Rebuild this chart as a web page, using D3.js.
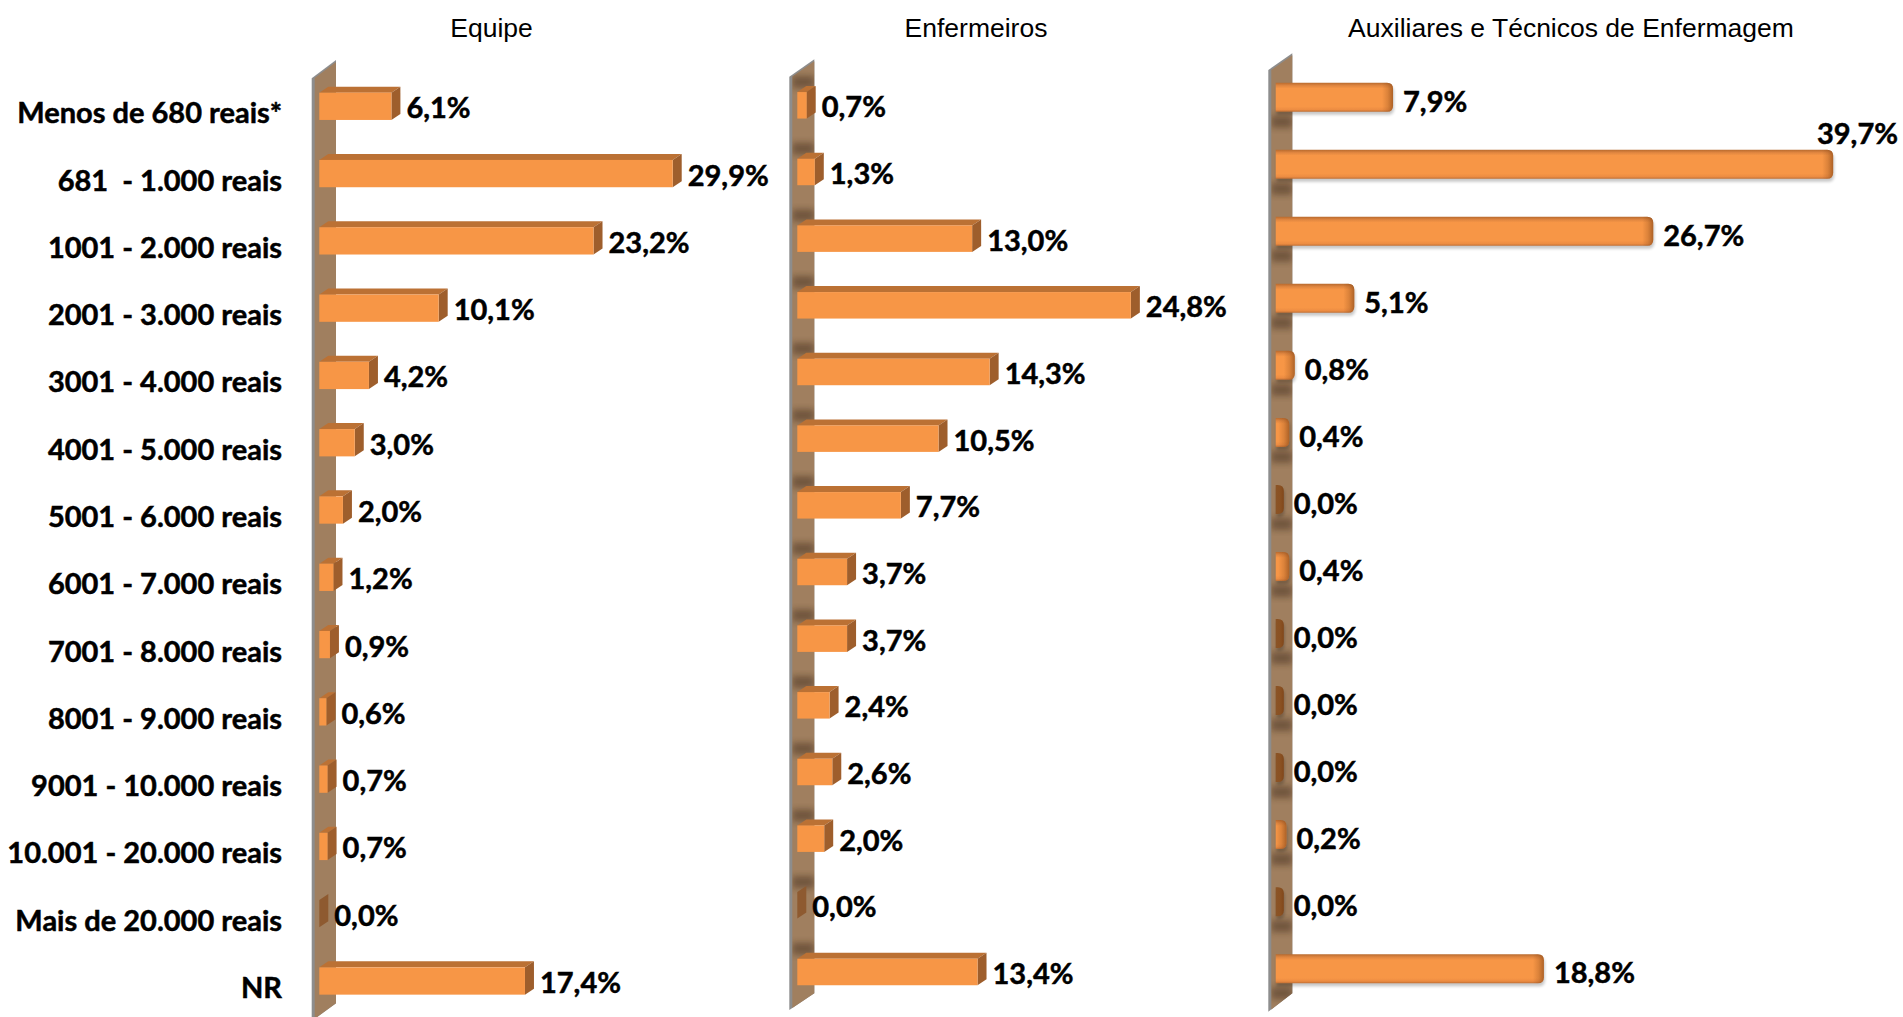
<!DOCTYPE html>
<html>
<head>
<meta charset="utf-8">
<script src="https://cdn.jsdelivr.net/npm/d3@7"></script>
<style>
  html, body { margin: 0; padding: 0; background: #fff; overflow: hidden; }
  text { white-space: pre; }
</style>
</head>
<body>
<svg id="chart" width="1903" height="1017"></svg>
<script>
// Income brackets (rows) and the three groups (panels)
const categories = [
  "Menos de 680 reais*", "681  - 1.000 reais", "1001 - 2.000 reais", "2001 - 3.000 reais",
  "3001 - 4.000 reais", "4001 - 5.000 reais", "5001 - 6.000 reais", "6001 - 7.000 reais",
  "7001 - 8.000 reais", "8001 - 9.000 reais", "9001 - 10.000 reais", "10.001 - 20.000 reais",
  "Mais de 20.000 reais", "NR"
];
const panelTitles = ["Equipe", "Enfermeiros", "Auxiliares e Técnicos de Enfermagem"];

// Percentages per bracket
const equipe      = [6.1, 29.9, 23.2, 10.1, 4.2, 3.0, 2.0, 1.2, 0.9, 0.6, 0.7, 0.7, 0.0, 17.4];
const enfermeiros = [0.7, 1.3, 13.0, 24.8, 14.3, 10.5, 7.7, 3.7, 3.7, 2.4, 2.6, 2.0, 0.0, 13.4];
const auxiliares  = [7.9, 39.7, 26.7, 5.1, 0.8, 0.4, 0.0, 0.4, 0.0, 0.0, 0.0, 0.2, 0.0, 18.8];

const fmt = v => v.toFixed(1).replace(".", ",") + "%";

// Panel layout
const panels = [
  { title: panelTitles[0], values: equipe, style: "box", titleX: 491.5,
    x0: 319.3, pxPer: 11.82, domainMax: 35, yFirst: 106.3, yLast: 981, barH: 27.3,
    wall: { l: 311.7, r: 336, topL: 78.3, topR: 60, botL: 1021, botR: 1003.3 }, shadow: "none" },
  { title: panelTitles[1], values: enfermeiros, style: "box", titleX: 976,
    x0: 797.3, pxPer: 13.45, domainMax: 30, yFirst: 105.3, yLast: 972, barH: 26.5,
    wall: { l: 789.3, r: 814.3, topL: 76.7, topR: 59.3, botL: 1010, botR: 993.3 }, shadow: "above" },
  { title: panelTitles[2], values: auxiliares, style: "bevel", titleX: 1571,
    x0: 1275.7, pxPer: 13.84, domainMax: 45, yFirst: 97.2, yLast: 968.7, barH: 29,
    wall: { l: 1268.3, r: 1292.3, topL: 70, topR: 53.3, botL: 1011.7, botR: 993.3 }, shadow: "below" }
];

const svg = d3.select("#chart");
const defs = svg.append("defs");

defs.append("filter").attr("id", "soft").attr("x", "-50%").attr("y", "-50%").attr("width", "200%").attr("height", "200%")
  .append("feGaussianBlur").attr("stdDeviation", 3);
defs.append("filter").attr("id", "softSm").attr("x", "-50%").attr("y", "-50%").attr("width", "200%").attr("height", "200%")
  .append("feGaussianBlur").attr("stdDeviation", 1.6);

const gv = defs.append("linearGradient").attr("id", "bevelV").attr("x1", 0).attr("y1", 0).attr("x2", 0).attr("y2", 1);
[[0, "#B86A2E"], [0.1, "#E08640"], [0.2, "#F79646"], [0.82, "#F79646"], [0.93, "#EC8C42"], [1, "#C27034"]]
  .forEach(([o, c]) => gv.append("stop").attr("offset", o).attr("stop-color", c));
const gc = defs.append("linearGradient").attr("id", "bevelCap").attr("x1", 0).attr("y1", 0).attr("x2", 1).attr("y2", 0);
[[0, "#8C4A18", 0], [0.5, "#8C4A18", 0.25], [1, "#7A3E12", 0.6]]
  .forEach(([o, c, a]) => gc.append("stop").attr("offset", o).attr("stop-color", c).attr("stop-opacity", a));

const labelFont = "Lato, 'Open Sans', sans-serif";
const titleFont = "'Liberation Sans', Arial, sans-serif";
const labelSize = 29;

function boldText(sel) {
  return sel.attr("font-family", labelFont).attr("font-weight", 700).attr("font-size", labelSize)
    .attr("fill", "#000").attr("stroke", "#000").attr("stroke-width", 0.5);
}

// Category labels (shared, left of the first panel)
const yCat = d3.scalePoint().domain(categories).range([panels[0].yFirst, panels[0].yLast]);
svg.append("g").selectAll("text").data(categories).join("text")
  .attr("x", 282).attr("y", d => yCat(d) + 17)
  .attr("text-anchor", "end")
  .call(boldText)
  .text(d => d);

function roundedRight(x, y, w, h, r) {
  r = Math.min(r, w, h / 2);
  return `M${x},${y}H${x + w - r}Q${x + w},${y} ${x + w},${y + r}V${y + h - r}Q${x + w},${y + h} ${x + w - r},${y + h}H${x}Z`;
}

panels.forEach(p => {
  const g = svg.append("g");
  const x = d3.scaleLinear().domain([0, p.domainMax]).range([p.x0, p.x0 + p.domainMax * p.pxPer]);
  const y = d3.scalePoint().domain(categories).range([p.yFirst, p.yLast]);
  const rows = categories.map((c, i) => ({ c, v: p.values[i], yc: y(c) }));
  const h = p.barH;

  // title
  g.append("text").attr("x", p.titleX).attr("y", 36.5).attr("text-anchor", "middle")
    .attr("font-family", titleFont).attr("font-size", 26.5).attr("fill", "#000").text(p.title);

  // wall (edge + face)
  const w = p.wall;
  const slope = (w.topR - w.topL) / (w.r - w.l);
  g.append("path")
    .attr("d", `M${w.l},${w.topL}L${w.r},${w.topR}L${w.r},${w.botR}L${w.l},${w.botL}Z`)
    .attr("fill", "#8D8D8D");
  const facePath = `M${w.l + 3},${w.topL + slope * 3 + 2}L${w.r},${w.topR + 2}L${w.r},${w.botR}L${w.l + 3},${w.botL + slope * 3}Z`;
  g.append("path").attr("d", facePath).attr("fill", "#A07F5F");

  // shading cast on the wall by the bars
  if (p.shadow !== "none") {
    const clipId = "wallclip" + Math.round(p.x0);
    defs.append("clipPath").attr("id", clipId).append("path").attr("d", facePath);
    g.append("g").attr("clip-path", `url(#${clipId})`).selectAll("rect").data(rows).join("rect")
      .attr("x", w.l + 3).attr("width", w.r - w.l - 3)
      .attr("y", d => p.shadow === "above" ? d.yc - h / 2 - 16 : d.yc + h / 2 + 4)
      .attr("height", 12)
      .attr("fill", "#3A2616").attr("opacity", 0.45)
      .attr("filter", "url(#soft)");
  }

  if (p.style === "box") {
    const dx = 9, dy = 6;
    const bars = g.append("g").selectAll("g").data(rows).join("g");
    // top face
    bars.append("path")
      .attr("d", d => {
        const x0 = x(0), x1 = x(d.v), t = d.yc - h / 2;
        return `M${x0},${t}L${x0 + dx},${t - dy}L${x1 + dx},${t - dy}L${x1},${t}Z`;
      })
      .attr("fill", "#BB7134");
    // side face
    bars.append("path")
      .attr("d", d => {
        const x1 = x(d.v), t = d.yc - h / 2, b = d.yc + h / 2;
        return `M${x1},${t}L${x1 + dx},${t - dy}L${x1 + dx},${b - dy}L${x1},${b}Z`;
      })
      .attr("fill", d => d.v === 0 ? "#8E5A30" : "#9E5E2C");
    // front face
    bars.append("rect")
      .attr("x", x(0)).attr("y", d => d.yc - h / 2)
      .attr("width", d => x(d.v) - x(0)).attr("height", h)
      .attr("fill", "#F79646");

    // value labels
    g.append("g").selectAll("text").data(rows).join("text")
      .attr("x", d => x(d.v) + dx + 6)
      .attr("y", d => d.yc + 12)
      .call(boldText)
      .text(d => fmt(d.v));
  } else {
    const capW = 8;
    const bars = g.append("g").selectAll("g").data(rows).join("g");
    // soft drop shadow
    bars.append("path")
      .attr("d", d => roundedRight(x(0) + 1, d.yc - h / 2 + 3, x(d.v) - x(0) + capW, h, 6))
      .attr("fill", "#000").attr("opacity", 0.22).attr("filter", "url(#softSm)");
    // body
    bars.append("path")
      .attr("d", d => roundedRight(x(0), d.yc - h / 2, x(d.v) - x(0) + capW, h, 6))
      .attr("fill", d => d.v === 0 ? "#8A5426" : "url(#bevelV)");
    // rounded end shading
    bars.append("path")
      .attr("d", d => {
        const xe = x(d.v) + capW, cw = Math.min(11, xe - x(0));
        return roundedRight(xe - cw, d.yc - h / 2, cw, h, 6);
      })
      .attr("fill", "url(#bevelCap)");

    // value labels; a label that would run past the right edge sits above its bar
    const limit = 1898;
    g.append("g").selectAll("text").data(rows).join("text")
      .call(boldText)
      .text(d => fmt(d.v))
      .each(function (d) {
        const t = d3.select(this);
        const lx = x(d.v) + capW + 10;
        t.attr("x", lx).attr("y", d.yc + 14.5);
        const wdt = this.getComputedTextLength();
        if (lx + wdt > limit) {
          t.attr("x", limit).attr("text-anchor", "end").attr("y", d.yc - 20);
        }
      });
  }
});
</script>
</body>
</html>
